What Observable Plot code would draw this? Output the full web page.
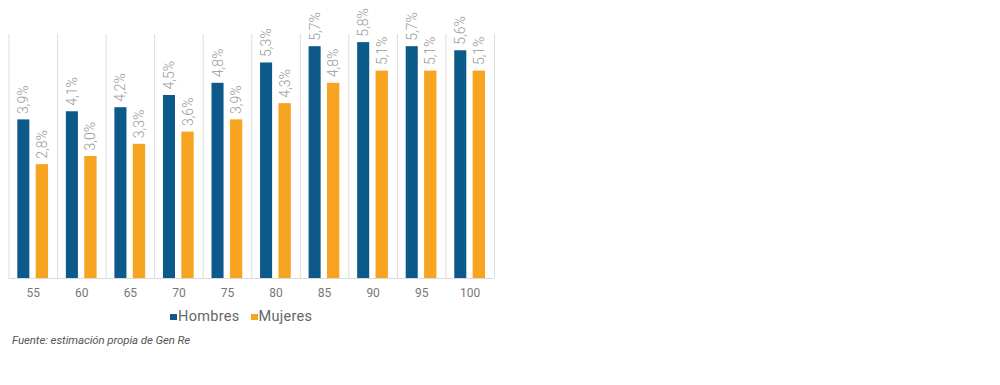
<!DOCTYPE html>
<html>
<head>
<meta charset="utf-8">
<script src="https://cdn.jsdelivr.net/npm/d3@7"></script>
<script src="https://cdn.jsdelivr.net/npm/@observablehq/plot@0.6"></script>
<style>
  body { margin: 0; background: #fff; font-family: Roboto, "Noto Sans", sans-serif; }
  #wrap { position: relative; width: 1000px; height: 385px; }
  #legend { position: absolute; left: 170px; top: 308px; font-size: 14.5px; color: #666; letter-spacing: 0.3px; white-space: nowrap; }
  #legend span.sw { display: inline-block; width: 7px; height: 6px; margin-right: 1px; vertical-align: 1px; }
  #legend span.item { margin-right: 11px; }
  #caption { position: absolute; left: 12px; top: 333px; font-size: 11.5px; font-style: italic; color: #555; letter-spacing: -0.1px; }
</style>
</head>
<body>
<div id="wrap">
  <div id="chart"></div>
  <div id="legend"></div>
  <div id="caption"></div>
</div>
<script>
const ages = ["55", "60", "65", "70", "75", "80", "85", "90", "95", "100"];
const hombres = [3.9, 4.1, 4.2, 4.5, 4.8, 5.3, 5.7, 5.8, 5.7, 5.6];
const mujeres = [2.8, 3.0, 3.3, 3.6, 3.9, 4.3, 4.8, 5.1, 5.1, 5.1];
const seriesNames = ["Hombres", "Mujeres"];
const seriesColors = ["#0b5a8a", "#f7a520"];
const caption = "Fuente: estimación propia de Gen Re";

const rows = ages.map((a, i) => ({age: a, h: hombres[i], m: mujeres[i]}));
const fmt = v => v.toFixed(1).replace(".", ",") + "%";
const bw = (1000 - 8.5 - 506) / ages.length;

const chart = Plot.plot({
  width: 1000,
  height: 306,
  marginLeft: 8.5,
  marginRight: 506,
  marginTop: 34,
  marginBottom: 28,
  x: {domain: ages, padding: 0, round: false, label: null},
  y: {domain: [0, 6], axis: null},
  style: {fontFamily: "Roboto, sans-serif"},
  marks: [
    Plot.ruleX(ages, {x: d => d, dx: -bw / 2, y1: 0, y2: 6, stroke: "#dcdcdc", strokeWidth: 1}),
    Plot.ruleX([ages[ages.length - 1]], {x: d => d, dx: bw / 2, y1: 0, y2: 6, stroke: "#dcdcdc", strokeWidth: 1}),
    Plot.barY(rows, {x: "age", y: "h", fill: seriesColors[0], insetLeft: 8.8, insetRight: 27.7}),
    Plot.barY(rows, {x: "age", y: "m", fill: seriesColors[1], insetLeft: 27.2, insetRight: 9}),
    Plot.ruleY([0], {stroke: "#d9d9d9"}),
    Plot.text(rows, {x: "age", y: "h", text: d => fmt(d.h), rotate: -90, textAnchor: "start", dx: -9.4, dy: -6, fill: "#999", fontSize: 14, fontWeight: 300, style: "letter-spacing:1.2px"}),
    Plot.text(rows, {x: "age", y: "m", text: d => fmt(d.m), rotate: -90, textAnchor: "start", dx: 9.1, dy: -6, fill: "#999", fontSize: 14, fontWeight: 300, style: "letter-spacing:1.2px"}),
    Plot.axisX({tickSize: 0, tickPadding: 10, fontSize: 12, fill: "#777", label: null, style: "letter-spacing:1.2px"})
  ]
});
document.getElementById("chart").appendChild(chart);

const legend = document.getElementById("legend");
seriesNames.forEach((n, i) => {
  const item = document.createElement("span");
  item.className = "item";
  const sw = document.createElement("span");
  sw.className = "sw";
  sw.style.background = seriesColors[i];
  item.appendChild(sw);
  item.appendChild(document.createTextNode(n));
  legend.appendChild(item);
});
document.getElementById("caption").textContent = caption;
</script>
</body>
</html>
